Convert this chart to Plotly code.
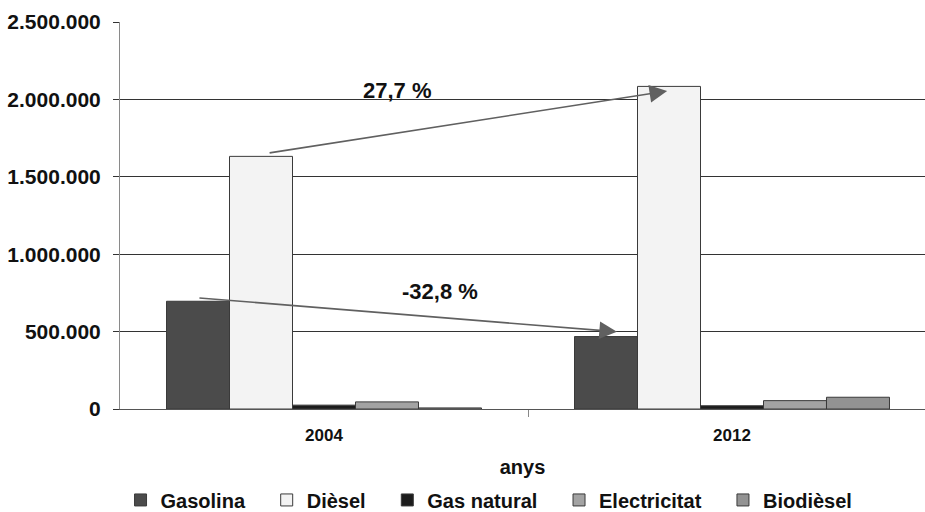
import plotly.graph_objects as go

# Vehicle fleet by fuel type, 2004 vs 2012
years = ["2004", "2012"]
fuels = ["Gasolina", "Dièsel", "Gas natural", "Electricitat", "Biodièsel"]
gasolina = [696000, 468000]
diesel = [1632000, 2084000]
gas_natural = [25000, 21000]
electricitat = [46000, 54000]
biodiesel = [7000, 76000]
series_values = [gasolina, diesel, gas_natural, electricitat, biodiesel]
fill_colors = ["#4b4b4b", "#f3f3f3", "#1c1c1c", "#a3a3a3", "#939393"]

y_ticks = [0, 500000, 1000000, 1500000, 2000000, 2500000]

# percentage changes drawn as arrows between the two years
diesel_change = "27,7 %"
gasolina_change = "-32,8 %"

x_pos = list(range(len(years)))

# extra space after each legend entry
legend_pad = "\u00a0\u00a0\u00a0"

fig = go.Figure()
for name, vals, col in zip(fuels, series_values, fill_colors):
    fig.add_trace(go.Bar(
        x=x_pos, y=vals, name=name + legend_pad,
        marker=dict(color=col, line=dict(color="#3a3a3a", width=1)),
    ))

font_family = "Liberation Sans, Arial, sans-serif"

fig.update_layout(
    width=925, height=512,
    margin=dict(l=120, r=0, t=22, b=103, autoexpand=False),
    paper_bgcolor="white", plot_bgcolor="white",
    barmode="group", bargap=0.228, bargroupgap=0,
    separators=",.",
    font=dict(family=font_family, color="#111111"),
    showlegend=True,
    legend=dict(
        orientation="h", xref="paper", x=0.469, xanchor="center",
        y=-0.235, yanchor="middle",
        font=dict(size=20, family=font_family, color="#111111", weight="bold"),
        itemwidth=30, traceorder="normal",
    ),
)

fig.update_xaxes(
    range=[-0.5, -0.5 + 805 / 408],
    tickvals=x_pos, ticktext=years,
    ticks="", showgrid=False, zeroline=False,
    showline=True, linecolor="#555555", linewidth=1,
    tickfont=dict(size=17, weight="bold"),
    ticklabelstandoff=11,
    minor=dict(tickvals=[0.5], ticks="outside", ticklen=7,
               tickcolor="#888888", tickwidth=1, showgrid=False),
    title=dict(text="anys", font=dict(size=20, weight="bold"), standoff=15),
    automargin=False,
)

fig.update_yaxes(
    range=[0, 2500000],
    tickvals=y_ticks, tickformat=",d",
    showgrid=True, gridcolor="#333333", gridwidth=1,
    zeroline=False,
    showline=True, linecolor="#8a8a8a", linewidth=1,
    ticks="outside", ticklen=6, tickcolor="#333333",
    tickfont=dict(size=21, weight="bold"),
    ticklabelstandoff=8,
    automargin=False,
)

# arrows: from the 2004 bar top towards the 2012 bar
arrow_style = dict(showarrow=True, arrowhead=2, arrowsize=2.2, arrowwidth=1.6,
                   arrowcolor="#606060", axref="x", ayref="y", text="")
fig.add_annotation(x=0.841, y=2054000, ax=-0.137, ay=1653000, **arrow_style)
fig.add_annotation(x=0.718, y=499000, ax=-0.309, ay=718000, **arrow_style)

label_font = dict(size=22, family=font_family, color="#111111", weight="bold")
fig.add_annotation(x=0.180, y=2055000, text=diesel_change, showarrow=False,
                   font=label_font)
fig.add_annotation(x=0.285, y=760000, text=gasolina_change, showarrow=False,
                   font=label_font)

fig.write_html("out.html")
